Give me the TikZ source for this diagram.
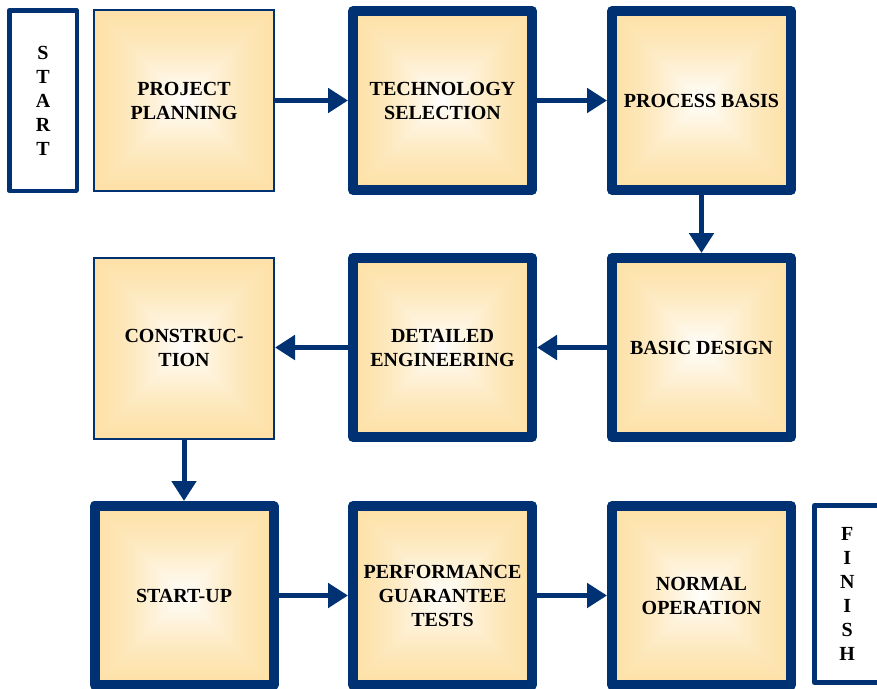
\documentclass[tikz,border=0pt]{standalone}
\usepackage{fontspec}
\setmainfont{Liberation Serif}
\usetikzlibrary{arrows.meta,calc}
\definecolor{navy}{RGB}{0,50,115}
\definecolor{boxor}{RGB}{253,225,168}
\tikzset{
  grad/.style={path picture={
    \foreach \k in {0,...,39}{
      \pgfmathsetmacro\tt{\k/40}
      \pgfmathsetmacro\pp{100*(1-\tt^1.4)}
      \fill[boxor!\pp!white]
        ($(path picture bounding box.south west)!\tt*0.5!(path picture bounding box.north east)$)
        rectangle
        ($(path picture bounding box.north east)!\tt*0.5!(path picture bounding box.south west)$);
    }}},
  lbl/.style={align=center, inner sep=0pt, font=\bfseries\fontsize{20}{24}\selectfont},
  thickbox/.style={grad, lbl, draw=navy, line width=10pt, line join=round,
    minimum width=179pt, minimum height=179pt},
  thinbox/.style={grad, lbl, draw=navy, line width=2pt,
    minimum width=180pt, minimum height=181pt},
  endbox/.style={lbl, draw=navy, fill=white, line width=4.5pt, line join=round},
  flow/.style={draw=navy, line width=5pt, -{Triangle[length=20pt,width=24pt]}}
}
\begin{document}
\begin{tikzpicture}[x=1pt,y=-1pt]
\useasboundingbox (0,0) rectangle (877,688);
\clip (0,0) rectangle (877,688);
% top row
\node[endbox, minimum width=67.5pt, minimum height=180.5pt] (start) at (43,100.5) {S\\T\\A\\R\\T};
\node[thinbox] (pp) at (184,100.5) {PROJECT\\PLANNING};
\node[thickbox] (tech) at (442.5,100.5) {TECHNOLOGY\\SELECTION};
\node[thickbox] (proc) at (701.5,100.5) {PROCESS BASIS};
% middle row
\node[thickbox] (basic) at (701.5,347.5) {BASIC DESIGN};
\node[thickbox] (det) at (442.5,347.5) {DETAILED\\ENGINEERING};
\node[thinbox] (cons) at (184,348) {CONSTRUC-\\TION};
% bottom row
\node[thickbox] (su) at (184,595.5) {START-UP};
\node[thickbox] (perf) at (442.5,595.5) {PERFORMANCE\\GUARANTEE\\TESTS};
\node[thickbox] (norm) at (701.5,595.5) {NORMAL\\OPERATION};
\node[endbox, line width=5pt, minimum width=65.5pt, minimum height=177pt] (fin) at (847.25,594) {F\\I\\N\\I\\S\\H};
% connectors
\draw[flow] (pp) -- (tech);
\draw[flow] (tech) -- (proc);
\draw[flow] (proc) -- (basic);
\draw[flow] (basic) -- (det);
\draw[flow] (det) -- (cons.east |- det.west);
\draw[flow] (cons) -- (su);
\draw[flow] (su) -- (perf);
\draw[flow] (perf) -- (norm);
\end{tikzpicture}
\end{document}
